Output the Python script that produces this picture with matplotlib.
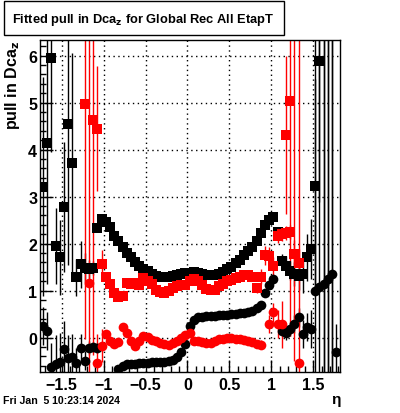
import numpy as np
import matplotlib
matplotlib.use("Agg")
import matplotlib.pyplot as plt
from matplotlib.ticker import MultipleLocator

plt.rcParams['font.family'] = ['Liberation Sans', 'DejaVu Sans']
plt.rcParams['font.weight'] = 'bold'

nan = np.nan

# bin centres of the eta histogram (0.05 wide bins)
eta = np.round(np.arange(71) * 0.05 - 1.725, 3)

# black squares (upper series)
sig_k = [3.21, 4.15, 5.94, 1.95, 1.71, 2.78, 4.54, 3.71, 1.28, 1.56,
         1.49, 1.46, 1.48, 2.34, 2.52, 2.45, 2.35, 2.17, 2.06, 1.92,
         1.81, 1.71, 1.60, 1.53, 1.46, 1.41, 1.36, 1.32, 1.29, 1.29,
         1.30, 1.32, 1.34, 1.36, 1.37, 1.38, 1.39, 1.38, 1.36, 1.34,
         1.33, 1.34, 1.36, 1.40, 1.45, 1.51, 1.58, 1.66, 1.76, 1.85,
         1.92, 2.05, 2.22, 2.40, 2.50, 2.56, 2.24, 1.63, 1.53, 1.42,
         1.35, 1.32, 1.35, 1.71, 1.88, 3.23, 5.88, 8.0, 8.0, 8.0, nan]
sig_k_err = [2.33, 3.0, 2.0, 0.8, 0.8, 1.38, 3.0, 2.34, 0.4, 0.5,
             0.3, 0.2, 0.15, 0.08, 0.04, 0.03, 0.03, 0.03, 0.03, 0.03,
             0.03, 0.03, 0.03, 0.03, 0.03, 0.03, 0.03, 0.03, 0.03, 0.03,
             0.03, 0.03, 0.03, 0.03, 0.03, 0.03, 0.03, 0.03, 0.03, 0.03,
             0.03, 0.03, 0.03, 0.03, 0.03, 0.03, 0.03, 0.03, 0.03, 0.03,
             0.03, 0.03, 0.03, 0.03, 0.03, 0.04, 0.1, 0.15, 0.2, 0.2,
             0.25, 0.3, 0.4, 0.5, 0.64, 2.27, 3.0, 9.0, 9.0, 9.0, nan]

# red squares
sig_r = [nan, nan, nan, nan, nan, nan, nan, nan, nan, nan,
         4.97, nan, 4.63, 4.44, 1.56, 1.28, 1.14, 0.96, 0.86, 0.88,
         1.17, 1.15, 1.17, 1.12, 1.26, 1.20, 1.14, 1.02, 0.98, 0.95,
         1.00, 1.06, 1.10, 1.12, 1.13, 1.20, 1.24, 1.20, 1.12, 1.03,
         1.02, 1.02, 1.10, 1.14, 1.20, 1.23, 1.27, 1.29, 1.33, 1.33,
         1.30, 1.05, 1.30, 1.75, 1.73, 1.52, 2.17, 2.20, 2.22, 2.24,
         1.78, 1.59, nan, nan, nan, nan, nan, nan, nan, nan, nan]
sig_r_err = [nan, nan, nan, nan, nan, nan, nan, nan, nan, nan,
             5.0, nan, 5.0, 1.33, 0.3, 0.05, 0.04, 0.04, 0.04, 0.04,
             0.04, 0.04, 0.04, 0.04, 0.04, 0.04, 0.04, 0.04, 0.04, 0.04,
             0.04, 0.04, 0.04, 0.04, 0.04, 0.04, 0.04, 0.04, 0.04, 0.04,
             0.04, 0.04, 0.04, 0.04, 0.04, 0.04, 0.04, 0.04, 0.04, 0.04,
             0.05, 0.1, 0.15, 0.2, 0.2, 0.2, 0.15, 0.15, 0.15, 0.15,
             0.3, 0.3, nan, nan, nan, nan, nan, nan, nan, nan, nan]

# red squares far off scale near eta = +1.2
sig_r_hi_eta = [1.175, 1.225, 1.275]
sig_r_hi = [4.31, 5.04, 7.5]
sig_r_hi_err = [1.68, 5.0, 8.0]

# black circles (lower series)
mu_k = [0.25, 0.14, -0.62, -0.55, -0.51, -0.24, -0.44, -0.42, -0.53, -0.22,
        -0.49, -0.21, -0.20, -0.22, nan, nan, nan, nan, -0.67, -0.60,
        -0.57, -0.56, -0.55, -0.54, -0.53, -0.53, -0.52, -0.52, -0.51, -0.51,
        -0.50, -0.47, -0.42, -0.30, -0.14, 0.25, 0.38, 0.43, 0.45, 0.46,
        0.47, 0.47, 0.48, 0.48, 0.49, 0.50, 0.51, 0.52, 0.53, 0.54,
        0.57, 0.64, 0.70, 0.96, 1.12, 1.24, nan, 0.15, 0.11, 0.18,
        0.29, 0.43, 0.07, 0.22, 0.18, 1.00, 1.07, 1.14, 1.25, 1.35, -0.31]
mu_k_err = [0.4, 0.4, 0.5, 0.6, 0.6, 0.6, 0.5, 0.5, 0.3, 0.3,
            0.2, 0.15, 0.1, 0.1, nan, nan, nan, nan, 0.03, 0.03,
            0.03, 0.03, 0.03, 0.03, 0.03, 0.03, 0.03, 0.03, 0.03, 0.03,
            0.03, 0.03, 0.03, 0.03, 0.03, 0.03, 0.03, 0.03, 0.03, 0.03,
            0.03, 0.03, 0.03, 0.03, 0.03, 0.03, 0.03, 0.03, 0.03, 0.03,
            0.03, 0.03, 0.03, 0.03, 0.03, 0.04, nan, 0.1, 0.15, 0.15,
            0.2, 0.2, 0.3, 0.3, 0.4, 6.0, 6.0, 6.0, 6.0, 6.0, 0.6]

# red circles
mu_r = [nan, nan, nan, nan, nan, nan, nan, nan, nan, nan,
        nan, 1.17, nan, -0.53, -0.17, 0.07, -0.07, -0.14, -0.10, 0.22,
        0.11, -0.07, -0.17, -0.07, 0.04, 0.02, -0.05, -0.08, -0.12, -0.14,
        -0.15, -0.12, -0.06, -0.01, 0.06, 0.11, -0.06, -0.08, -0.09, -0.12,
        -0.12, -0.08, -0.02, -0.02, 0.00, 0.00, -0.03, -0.03, -0.05, -0.06,
        -0.10, -0.13, -0.15, nan, 0.29, 0.54, 0.29, 0.29, nan, nan,
        nan, -0.53, nan, nan, nan, nan, nan, nan, nan, nan, nan]
mu_r_err = [nan, nan, nan, nan, nan, nan, nan, nan, nan, nan,
            nan, 8.0, nan, 0.6, 0.35, 0.1, 0.05, 0.04, 0.04, 0.04,
            0.04, 0.04, 0.04, 0.04, 0.04, 0.04, 0.04, 0.04, 0.04, 0.04,
            0.04, 0.04, 0.04, 0.04, 0.04, 0.04, 0.04, 0.04, 0.04, 0.04,
            0.04, 0.04, 0.04, 0.04, 0.04, 0.04, 0.04, 0.04, 0.04, 0.04,
            0.05, 0.06, 0.1, nan, 0.2, 0.2, 0.3, 0.5, nan, nan,
            nan, 8.0, nan, nan, nan, nan, nan, nan, nan, nan, nan]

fig = plt.figure(figsize=(4.0, 4.14), dpi=100)
ax = fig.add_axes([0.1, 0.099, 0.75, 0.802])

series = [(eta, sig_k, sig_k_err, 's', 'black'),
          (eta, mu_k, mu_k_err, 'o', 'black'),
          (eta, sig_r, sig_r_err, 's', 'red'),
          (sig_r_hi_eta, sig_r_hi, sig_r_hi_err, 's', 'red'),
          (eta, mu_r, mu_r_err, 'o', 'red')]
for xs, vals, errs, mk, col in series:
    ax.errorbar(xs, vals, yerr=errs, fmt=mk, color=col, ms=7, mew=0,
                elinewidth=1.0, capsize=0)

ax.set_xlim(-1.76, 1.82)
ax.set_ylim(-0.73, 6.33)
ax.xaxis.set_major_locator(MultipleLocator(0.5))
ax.xaxis.set_minor_locator(MultipleLocator(0.1))
ax.yaxis.set_major_locator(MultipleLocator(1))
ax.yaxis.set_minor_locator(MultipleLocator(0.2))
ax.tick_params(which='both', direction='in', top=False, right=False,
               labelsize=11.5, width=1)
ax.tick_params(axis='y', pad=2)
ax.tick_params(which='major', length=9)
ax.tick_params(which='minor', length=4.5)
ax.grid(True, which='major', color='black', linestyle=(0, (1, 2.5)), linewidth=1)
for s in ax.spines.values():
    s.set_linewidth(1)
ax.xaxis.set_major_formatter(plt.FuncFormatter(
    lambda v, p: ('\u2212' if v < 0 else '') + ('%g' % abs(v))))

fig.text(0.008, 0.902, r'pull in Dca$_\mathbf{z}$', rotation=90, ha='left', va='top',
         fontsize=11.5, fontweight='bold')
fig.text(0.84, 0.018, '\u03b7', ha='center', va='bottom', fontsize=11)
fig.text(0.008, 0.02, 'Fri Jan  5 10:23:14 2024', ha='left', va='bottom',
         fontsize=7.6, fontweight='bold')

# title box
fig.patches.append(plt.Rectangle((0.01, 0.913), 0.70, 0.082, transform=fig.transFigure,
                                 fill=False, edgecolor='black', linewidth=1))
fig.text(0.03, 0.952, r'Fitted pull in Dca$_\mathbf{z}$ for Global Rec All EtapT',
         ha='left', va='center', fontsize=9.3, fontweight='bold')

fig.savefig('out.png', dpi=100)
